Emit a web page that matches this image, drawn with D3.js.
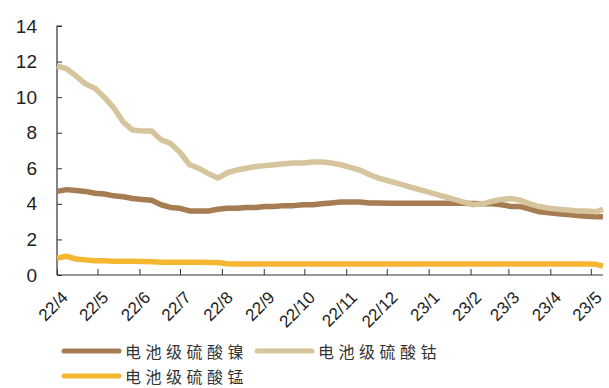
<!DOCTYPE html>
<html>
<head>
<meta charset="utf-8">
<script src="https://cdn.jsdelivr.net/npm/d3@7/dist/d3.min.js"></script>
<style>
  html, body { margin: 0; padding: 0; background: #fff; }
  svg { display: block; }
</style>
</head>
<body>
<svg id="chart" width="609" height="388"></svg>
<script>
// Weekly observation dates
const dates = [
  "2022-04-01","2022-04-08","2022-04-15","2022-04-22","2022-04-29",
  "2022-05-06","2022-05-13","2022-05-20","2022-05-27","2022-06-03",
  "2022-06-10","2022-06-17","2022-06-24","2022-07-01","2022-07-08",
  "2022-07-15","2022-07-22","2022-07-29","2022-08-05","2022-08-12",
  "2022-08-19","2022-08-26","2022-09-02","2022-09-09","2022-09-16",
  "2022-09-23","2022-09-30","2022-10-07","2022-10-14","2022-10-21",
  "2022-10-28","2022-11-04","2022-11-11","2022-11-18","2022-11-25",
  "2022-12-02","2022-12-09","2022-12-16","2022-12-23","2022-12-30",
  "2023-01-06","2023-01-13","2023-01-20","2023-01-27","2023-02-03",
  "2023-02-10","2023-02-17","2023-02-24","2023-03-03","2023-03-10",
  "2023-03-17","2023-03-24","2023-03-31","2023-04-07","2023-04-14",
  "2023-04-21","2023-04-28","2023-05-05","2023-05-10"
];

// 电池级硫酸镍 (万元/吨)
const nickel = [
  4.70,4.80,4.75,4.70,4.60,
  4.55,4.45,4.40,4.30,4.25,
  4.20,3.95,3.80,3.75,3.60,
  3.60,3.60,3.70,3.75,3.75,
  3.80,3.80,3.85,3.85,3.90,
  3.90,3.95,3.95,4.00,4.05,
  4.10,4.10,4.10,4.05,4.05,
  4.03,4.03,4.03,4.03,4.03,
  4.03,4.03,4.03,4.03,4.02,
  4.00,4.00,3.95,3.85,3.85,
  3.70,3.55,3.50,3.45,3.40,
  3.35,3.30,3.28,3.27
];

// 电池级硫酸钴 (万元/吨)
const cobalt = [
  11.75,11.60,11.20,10.75,10.50,
  10.00,9.40,8.60,8.15,8.10,
  8.10,7.60,7.40,6.90,6.20,
  6.00,5.70,5.45,5.75,5.90,
  6.00,6.10,6.15,6.20,6.25,
  6.30,6.30,6.35,6.35,6.30,
  6.20,6.05,5.90,5.65,5.45,
  5.30,5.15,5.00,4.85,4.70,
  4.55,4.40,4.25,4.10,3.95,
  4.00,4.15,4.25,4.30,4.20,
  4.00,3.85,3.75,3.70,3.65,
  3.60,3.60,3.55,3.70
];

// 电池级硫酸锰 (万元/吨)
const manganese = [
  0.95,1.05,0.90,0.85,0.80,
  0.80,0.78,0.78,0.78,0.76,
  0.75,0.72,0.72,0.72,0.72,
  0.72,0.70,0.70,0.63,0.62,
  0.62,0.62,0.62,0.62,0.62,
  0.62,0.62,0.62,0.62,0.62,
  0.62,0.62,0.62,0.62,0.62,
  0.62,0.62,0.62,0.62,0.62,
  0.62,0.62,0.62,0.62,0.62,
  0.62,0.62,0.62,0.62,0.62,
  0.62,0.62,0.62,0.62,0.62,
  0.62,0.62,0.60,0.50
];

const tickLabels = ["22/4","22/5","22/6","22/7","22/8","22/9","22/10","22/11","22/12","23/1","23/2","23/3","23/4","23/5"];
const yTicks = [0, 2, 4, 6, 8, 10, 12, 14];

const seriesNames = ["电池级硫酸镍", "电池级硫酸钴", "电池级硫酸锰"];
const seriesColors = ["#a67c52", "#d6c49c", "#f5b731"];

const parse = d3.timeParse("%Y-%m-%d");
const dateObjs = dates.map(parse);
const tickDates = d3.range(tickLabels.length).map(i => new Date(2022, 3 + i, 1));

const svg = d3.select("#chart");
const plotLeft = 57, plotRight = 603, plotTop = 26, plotBottom = 275;

const x = d3.scaleTime()
  .domain([new Date(2022, 3, 1), parse("2023-05-10")])
  .range([plotLeft, plotRight]);
const y = d3.scaleLinear().domain([0, 14]).range([plotBottom, plotTop]);

const axisColor = "#333";

// y axis
const yAxis = svg.append("g")
  .attr("transform", `translate(${plotLeft},0)`)
  .call(d3.axisRight(y).tickValues(yTicks).tickSize(5).tickFormat(d3.format("d")));
yAxis.select(".domain").attr("stroke", axisColor).attr("stroke-width", 1.2)
  .attr("d", `M5,${plotTop}H0V${plotBottom}`);
yAxis.selectAll(".tick line").attr("stroke", axisColor);
yAxis.selectAll(".tick text")
  .attr("x", -20).attr("text-anchor", "end")
  .attr("font-family", "Liberation Sans, Arial, sans-serif")
  .attr("font-size", 19).attr("fill", "#222");

// x axis
const xAxis = svg.append("g")
  .attr("transform", `translate(0,${plotBottom})`)
  .call(d3.axisTop(x).tickValues(tickDates).tickSize(6)
    .tickFormat((d, i) => tickLabels[i]));
xAxis.select(".domain").attr("stroke", axisColor).attr("stroke-width", 1.2)
  .attr("d", `M${plotLeft},0H${plotRight}`);
xAxis.selectAll(".tick line").attr("stroke", axisColor);
xAxis.selectAll(".tick text")
  .attr("y", 0).attr("dy", 0)
  .attr("text-anchor", "end")
  .attr("transform", "translate(3,15) rotate(-45)")
  .attr("dominant-baseline", "hanging")
  .attr("font-family", "Liberation Sans, Arial, sans-serif")
  .attr("font-size", 17).attr("fill", "#222");

// series lines
const line = d3.line()
  .x((d, i) => x(dateObjs[i]))
  .y(d => y(d))
  .curve(d3.curveLinear);

const seriesData = [manganese, nickel, cobalt];
const seriesColorOrder = [seriesColors[2], seriesColors[0], seriesColors[1]];
seriesData.forEach((vals, k) => {
  svg.append("path")
    .datum(vals)
    .attr("fill", "none")
    .attr("stroke", seriesColorOrder[k])
    .attr("stroke-width", 5.5)
    .attr("stroke-linejoin", "round")
    .attr("d", line);
});

// legend
const legendItems = [
  { name: seriesNames[0], color: seriesColors[0], x: 64, y: 351 },
  { name: seriesNames[1], color: seriesColors[1], x: 257, y: 351 },
  { name: seriesNames[2], color: seriesColors[2], x: 64, y: 376 }
];
const lg = svg.append("g");
legendItems.forEach(it => {
  lg.append("line")
    .attr("x1", it.x).attr("x2", it.x + 55)
    .attr("y1", it.y).attr("y2", it.y)
    .attr("stroke", it.color).attr("stroke-width", 5)
    .attr("stroke-linecap", "round");
  lg.append("text")
    .attr("x", it.x + 61).attr("y", it.y)
    .attr("dominant-baseline", "central")
    .attr("font-family", "Noto Sans CJK SC, sans-serif")
    .attr("font-size", 16).attr("letter-spacing", 4.5)
    .attr("fill", "#333")
    .text(it.name);
});
</script>
</body>
</html>
